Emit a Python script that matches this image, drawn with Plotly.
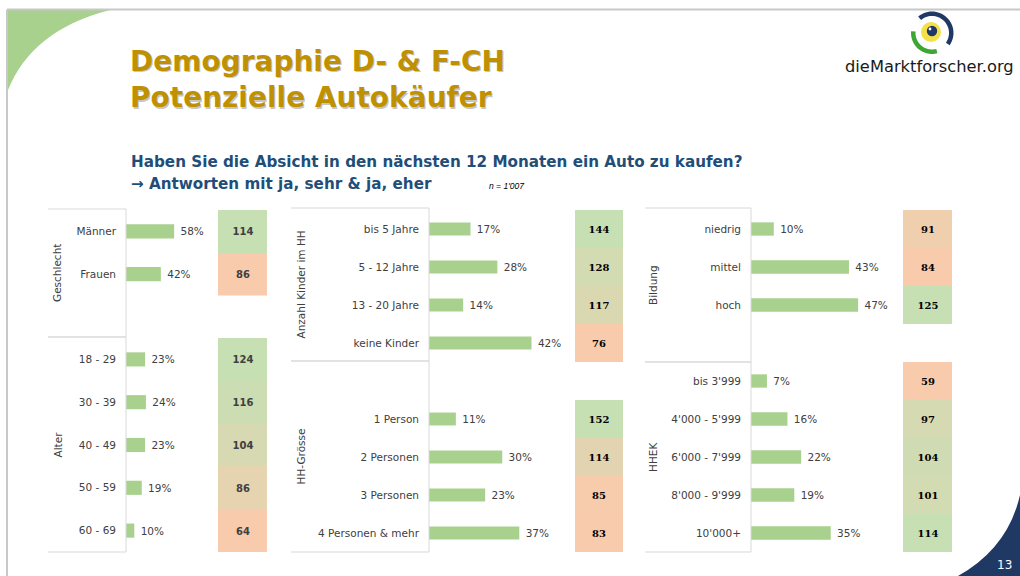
import numpy as np
import plotly.graph_objects as go

# ---------------- data ----------------
gender_labels = ["Männer", "Frauen"]
gender_pct = [58, 42]
gender_idx = [114, 86]

age_labels = ["18 - 29", "30 - 39", "40 - 49", "50 - 59", "60 - 69"]
age_pct = [23, 24, 23, 19, 10]
age_idx = [124, 116, 104, 86, 64]

kids_labels = ["bis 5 Jahre", "5 - 12 Jahre", "13 - 20 Jahre", "keine Kinder"]
kids_pct = [17, 28, 14, 42]
kids_idx = [144, 128, 117, 76]

hh_labels = ["1 Person", "2 Personen", "3 Personen", "4 Personen & mehr"]
hh_pct = [11, 30, 23, 37]
hh_idx = [152, 114, 85, 83]

edu_labels = ["niedrig", "mittel", "hoch"]
edu_pct = [10, 43, 47]
edu_idx = [91, 84, 125]

inc_labels = ["bis 3'999", "4'000 - 5'999", "6'000 - 7'999", "8'000 - 9'999", "10'000+"]
inc_pct = [7, 16, 22, 19, 35]
inc_idx = [59, 97, 104, 101, 114]

group_names = ["Geschlecht", "Alter", "Anzahl Kinder im HH", "HH-Grösse", "Bildung", "HHEK"]

title_lines = ["Demographie D- & F-CH", "Potenzielle Autokäufer"]
question_lines = ["Haben Sie die Absicht in den nächsten 12 Monaten ein Auto zu kaufen?",
                  "\u2192 Antworten mit ja, sehr & ja, eher"]
sample_note = "n = 1'007"
brand = "dieMarktforscher.org"
page_no = "13"

# ---------------- layout helpers ----------------
W, H = 1020, 576
def px(x): return x / W
def py(y): return 1 - y / H

BAR_GREEN = "#A9D18E"
HEAT_SCALE = [[0, "#F8CBAD"], [1, "#C6E0B4"]]
LABEL_COL = "#404040"
LINE_COL = "#D9D9D9"
FONT = "DejaVu Sans"

panels = {
    "L": dict(bx0=126, bx1=218, rmax=110.8, hx0=218, hx1=267, gx=57, lx0=48, width=0.33,
              heat_font=dict(family=FONT, size=10, color="#404040", weight="bold")),
    "M": dict(bx0=429, bx1=575, rmax=59.8, hx0=575, hx1=623, gx=300, lx0=291, width=0.34,
              heat_font=dict(family="DejaVu Serif", size=10, color="#000000", weight="bold")),
    "R": dict(bx0=751, bx1=903, rmax=66.7, hx0=903, hx1=952, gx=653, lx0=645, width=0.35,
              heat_font=dict(family="DejaVu Serif", size=10, color="#000000", weight="bold")),
}

groups = [
    dict(name=group_names[0], labels=gender_labels, pct=gender_pct, idx=gender_idx, panel="L", y0=210, y1=295.5, by0=209, by1=337),
    dict(name=group_names[1], labels=age_labels, pct=age_pct, idx=age_idx, panel="L", y0=338, y1=552, by0=337, by1=552),
    dict(name=group_names[2], labels=kids_labels, pct=kids_pct, idx=kids_idx, panel="M", y0=210, y1=362, by0=208, by1=361),
    dict(name=group_names[3], labels=hh_labels, pct=hh_pct, idx=hh_idx, panel="M", y0=400, y1=552, by0=361, by1=552),
    dict(name=group_names[4], labels=edu_labels, pct=edu_pct, idx=edu_idx, panel="R", y0=210, y1=324, by0=208, by1=362),
    dict(name=group_names[5], labels=inc_labels, pct=inc_pct, idx=inc_idx, panel="R", y0=362, y1=552, by0=362, by1=552),
]

fig = go.Figure()
layout_axes = {}
shapes = []
annotations = []

n = 0
for g in groups:
    p = panels[g["panel"]]
    ydom = [py(g["y1"]), py(g["y0"])]
    # bar subplot
    n += 1
    xa, ya = f"x{n}", f"y{n}"
    fig.add_trace(go.Bar(
        x=g["pct"], y=g["labels"], orientation="h", marker_color=BAR_GREEN, marker_line_width=0,
        width=p["width"], texttemplate="\u00a0%{x}%", textposition="outside", cliponaxis=False,
        constraintext="none", textfont=dict(family=FONT, size=10.5, color=LABEL_COL),
        xaxis=xa, yaxis=ya, hoverinfo="skip", showlegend=False))
    layout_axes[f"xaxis{n}"] = dict(domain=[px(p["bx0"]), px(p["bx1"])], range=[0, p["rmax"]],
                                    visible=False, anchor=ya, fixedrange=True)
    layout_axes[f"yaxis{n}"] = dict(domain=ydom, type="category", autorange="reversed", anchor=xa,
                                    showgrid=False, zeroline=False, showline=False, ticks="",
                                    ticklabelstandoff=9,
                                    tickfont=dict(family=FONT, size=10.5, color=LABEL_COL), fixedrange=True)
    # heat subplot
    n += 1
    xa, ya = f"x{n}", f"y{n}"
    fig.add_trace(go.Heatmap(
        z=[[v] for v in g["idx"]], y=g["labels"], x=["Index"], colorscale=HEAT_SCALE, showscale=False,
        texttemplate="%{z}", textfont=p["heat_font"], xaxis=xa, yaxis=ya, hoverinfo="skip"))
    layout_axes[f"xaxis{n}"] = dict(domain=[px(p["hx0"]), px(p["hx1"])], visible=False, anchor=ya, fixedrange=True)
    layout_axes[f"yaxis{n}"] = dict(domain=ydom, type="category", autorange="reversed", visible=False,
                                    anchor=xa, fixedrange=True)
    # group box lines
    for yy in (g["by0"], g["by1"]):
        shapes.append(dict(type="line", xref="paper", yref="paper", x0=px(p["lx0"]), x1=px(p["bx0"]),
                           y0=py(yy), y1=py(yy), line=dict(color=LINE_COL, width=1)))
    shapes.append(dict(type="line", xref="paper", yref="paper", x0=px(p["bx0"]), x1=px(p["bx0"]),
                       y0=py(g["by0"]), y1=py(g["by1"]), line=dict(color=LINE_COL, width=1)))
    annotations.append(dict(text=g["name"], x=px(p["gx"]), y=py((g["by0"] + g["by1"]) / 2),
                            xref="paper", yref="paper", showarrow=False, textangle=-90,
                            xanchor="center", yanchor="middle",
                            font=dict(family=FONT, size=10.5, color=LABEL_COL)))

# ---------------- decorations ----------------
# green corner
shapes.append(dict(type="path", xref="paper", yref="paper", layer="below",
                   path=f"M {px(8)},{py(10)} L {px(110)},{py(10)} Q {px(32)},{py(30)} {px(8)},{py(90)} Z",
                   fillcolor=BAR_GREEN, line=dict(width=0)))
# slide border
shapes.append(dict(type="line", xref="paper", yref="paper", x0=px(7), x1=1, y0=py(9.5), y1=py(9.5),
                   line=dict(color="#C8C8C8", width=2)))
shapes.append(dict(type="line", xref="paper", yref="paper", x0=px(7), x1=px(7), y0=py(9.5), y1=0,
                   line=dict(color="#C8C8C8", width=2)))
# blue bottom-right corner
shapes.append(dict(type="path", xref="paper", yref="paper",
                   path=f"M {px(1020)},{py(495)} Q {px(1008)},{py(548)} {px(958)},{py(576)} L {px(1020)},{py(576)} Z",
                   fillcolor="#203864", line=dict(width=0)))

# logo
def sector(cx, cy, r_out, r_in, a0, a1, k=30):
    t = np.radians(np.linspace(a0, a1, k))
    outer = [(cx + r_out * np.cos(a), cy - r_out * np.sin(a)) for a in t]
    inner = [(cx + r_in * np.cos(a), cy - r_in * np.sin(a)) for a in t[::-1]]
    pts = outer + inner
    s = "M " + " L ".join(f"{px(x):.5f},{py(y):.5f}" for x, y in pts) + " Z"
    return s

shapes.append(dict(type="path", xref="paper", yref="paper", path=sector(932, 33, 21.5, 17, 130, -35),
                   fillcolor="#203864", line=dict(width=0)))
shapes.append(dict(type="path", xref="paper", yref="paper", path=sector(932, 33, 21, 16.5, 175, 285),
                   fillcolor="#3FA535", line=dict(width=0)))
def circ(cx, cy, r, col):
    return dict(type="circle", xref="paper", yref="paper", x0=px(cx - r), x1=px(cx + r),
                y0=py(cy + r), y1=py(cy - r), fillcolor=col, line=dict(width=0))
shapes.append(circ(931, 32, 10, "#F4E14A"))
shapes.append(circ(932, 31, 5.2, "#203864"))
shapes.append(circ(930, 29, 1.4, "#FFFFFF"))

# titles
for i, t in enumerate(title_lines):
    yc = [61, 98][i]
    annotations.append(dict(text=f"<b>{t}</b>", x=px(129.2), y=py(yc + 1.2), xref="paper", yref="paper",
                            showarrow=False, xanchor="left", yanchor="middle",
                            font=dict(family=FONT, size=28, color="rgba(90,90,90,0.35)")))
    annotations.append(dict(text=f"<b>{t}</b>", x=px(128), y=py(yc), xref="paper", yref="paper",
                            showarrow=False, xanchor="left", yanchor="middle",
                            font=dict(family=FONT, size=28, color="#BF9000")))

for i, t in enumerate(question_lines):
    yc = [162, 184][i]
    annotations.append(dict(text=f"<b>{t}</b>", x=px(129), y=py(yc), xref="paper", yref="paper",
                            showarrow=False, xanchor="left", yanchor="middle",
                            font=dict(family=FONT, size=15.2, color="#1F4E79")))

annotations.append(dict(text=f"<i>{sample_note}</i>", x=px(487), y=py(186), xref="paper", yref="paper",
                        showarrow=False, xanchor="left", yanchor="middle",
                        font=dict(family="Liberation Sans", size=8.5, color="#000000")))

annotations.append(dict(text=brand, x=px(843), y=py(67), xref="paper", yref="paper",
                        showarrow=False, xanchor="left", yanchor="middle",
                        font=dict(family=FONT, size=16.3, color="#1A1A1A")))

annotations.append(dict(text=page_no, x=px(1004), y=py(565), xref="paper", yref="paper",
                        showarrow=False, xanchor="center", yanchor="middle",
                        font=dict(family=FONT, size=12, color="#FFFFFF")))

fig.update_layout(
    width=W, height=H, margin=dict(l=0, r=0, t=0, b=0),
    paper_bgcolor="white", plot_bgcolor="white",
    shapes=shapes, annotations=annotations, showlegend=False,
    **layout_axes,
)

fig.write_html("out.html", config={"displayModeBar": False},
               post_script="document.body.style.margin='0';document.body.style.overflow='hidden';")
